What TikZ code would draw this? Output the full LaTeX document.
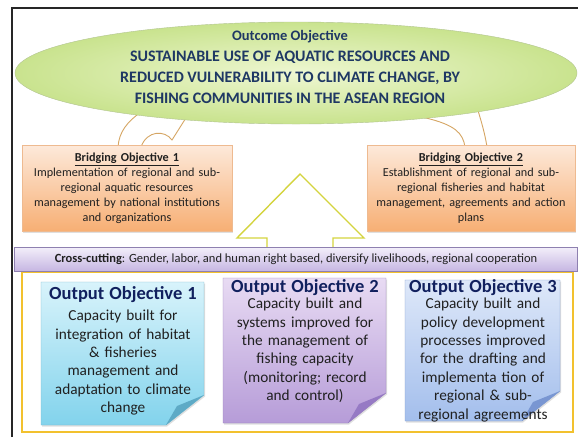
\documentclass[tikz,border=0pt]{standalone}
\usepackage{fontspec}
\setmainfont{Carlito}
\usetikzlibrary{shapes.geometric,shadows}

\definecolor{navytext}{HTML}{1F3864}
\definecolor{titlenavy}{HTML}{11205E}
\definecolor{darktext}{HTML}{202020}
\definecolor{greenin}{HTML}{EEF7D2}
\definecolor{greenout}{HTML}{C9E38E}
\definecolor{greenline}{HTML}{B2C490}
\definecolor{peachtop}{HTML}{FDE9DA}
\definecolor{peachbot}{HTML}{F7AF74}
\definecolor{peachline}{HTML}{EEBA90}
\definecolor{tanline}{HTML}{D6A664}
\definecolor{arrowyellow}{HTML}{D4D43E}
\definecolor{goldline}{HTML}{F2C12E}
\definecolor{liltop}{HTML}{F3EFFA}
\definecolor{lilbot}{HTML}{C6B6E2}
\definecolor{lilline}{HTML}{8E80B0}
\definecolor{cyantop}{HTML}{D8F3FB}
\definecolor{cyanbot}{HTML}{82D3EC}
\definecolor{cyanline}{HTML}{79B9CE}
\definecolor{cyanfold}{HTML}{5EAAC6}
\definecolor{purptop}{HTML}{E8DBF3}
\definecolor{purpbot}{HTML}{B69CD8}
\definecolor{purpline}{HTML}{9882BA}
\definecolor{purpfold}{HTML}{967AC4}
\definecolor{bluetop}{HTML}{DEE8F9}
\definecolor{bluebot}{HTML}{A3BEEC}
\definecolor{blueline}{HTML}{819CCA}
\definecolor{bluefold}{HTML}{7996D2}

\newcommand{\notetitlefont}{\color{titlenavy}\bfseries\fontsize{18.5}{19}\selectfont}

% sticky note with the lower right corner folded up
\def\foldnote[#1][#2](#3,#4)(#5,#6){%
  \shade[#1] (#3,#4) -- (#5,#4) -- (#5,#6-30) -- (#5-38,#6) -- (#3,#6) -- cycle;
  \fill[#2] (#5,#6-30) -- (#5-38,#6) -- (#5-27,#6-19) -- cycle;}

\tikzset{
  outcome/.style={ellipse, draw=greenline, inner color=greenin, outer color=greenout,
    minimum width=562pt, minimum height=102pt, inner sep=0pt},
  goaltext/.style={align=center, text=navytext, font=\bfseries\fontsize{16}{21}\selectfont},
  bridge/.style={rectangle, draw=peachline, top color=peachtop, bottom color=peachbot,
    inner sep=0pt, text width=206pt, align=center, text=darktext,
    font=\fontsize{12.2}{15}\selectfont,
    drop shadow={opacity=.25, shadow xshift=1pt, shadow yshift=-1.5pt}},
  bent/.style={draw=tanline, fill=white, line width=.9pt},
  uparrow/.style={draw=arrowyellow, fill=white, line width=1.4pt, line join=miter},
  crossbar/.style={rectangle, draw=lilline, top color=liltop, bottom color=lilbot,
    inner sep=0pt, minimum width=563pt, minimum height=24pt},
  crosstext/.style={text=darktext, font=\fontsize{12.5}{14}\selectfont},
  notetext/.style={anchor=north, inner sep=0pt, text width=164pt, align=center,
    text=darktext, font=\fontsize{15.3}{18.4}\selectfont},
}

\begin{document}
\begin{tikzpicture}[x=1pt,y=-1pt]
  \useasboundingbox (0,0) rectangle (578,437);
  \fill[white] (0,0) rectangle (578,437);

  % outer frame
  \draw[line width=1.3pt, black!85] (12,437) -- (12,8) -- (578,8);

  % bent arrows running up into the outcome
  \draw[bent] (118,147) .. controls (119,132) and (127,122) .. (141,112) -- (196,102)
    -- (172,140) .. controls (165,130) and (147,130) .. (141,147);
  \draw[bent] (465,147) .. controls (463,133) and (455,125) .. (426,118) -- (440,100)
    -- (475,100) .. controls (479,115) and (484,128) .. (487,147);

  \node[outcome] (outcome) at (296,73) {};
  \node[goaltext] (goal) at (290,67) {{\fontsize{14.5}{21}\selectfont Outcome Objective}\\
    SUSTAINABLE USE OF AQUATIC RESOURCES AND\\
    REDUCED VULNERABILITY TO CLIMATE CHANGE, BY\\
    FISHING COMMUNITIES IN THE ASEAN REGION};

  \node[bridge, minimum width=210pt, minimum height=86pt] (bridge1) at (127,188)
    {\underline{\textbf{Bridging Objective 1}}\\
     Implementation of regional and sub-\\
     regional aquatic resources\\
     management by national institutions\\
     and organizations};
  \node[bridge, minimum width=208pt, minimum height=86pt] (bridge2) at (471,188)
    {\underline{\textbf{Bridging Objective 2}}\\
     Establishment of regional and sub-\\
     regional fisheries and habitat\\
     management, agreements and action\\
     plans};

  % the outputs feed the bridging objectives
  \draw[uparrow] (300,174) -- (364,238) -- (333,238) -- (333,252) -- (267,252)
    -- (267,238) -- (237,238) -- cycle;

  \draw[goldline, line width=1.6pt] (22,272) rectangle (573,432);

  \node[crossbar] (cross) at (295.5,259) {};
  \node[crosstext] (crosscut) at (296,259.5) {\textbf{Cross-cutting}: Gender, labor, and
    human right based, diversify livelihoods, regional cooperation};

  % output objectives
  \foldnote[draw=cyanline, top color=cyantop, bottom color=cyanbot,
    drop shadow={opacity=.25, shadow xshift=1pt, shadow yshift=-1.5pt}][cyanfold](41,282)(204,425)
  \foldnote[draw=purpline, top color=purptop, bottom color=purpbot,
    drop shadow={opacity=.25, shadow xshift=1pt, shadow yshift=-1.5pt}][purpfold](223,278)(386,423)
  \foldnote[draw=blueline, top color=bluetop, bottom color=bluebot,
    drop shadow={opacity=.25, shadow xshift=1pt, shadow yshift=-1.5pt}][bluefold](405,280)(560,421)

  \node[notetext] (out1) at (123,286) {{\notetitlefont Output Objective 1}\\[3pt]
    Capacity built for\\ integration of habitat\\ \& fisheries\\ management and\\
    adaptation to climate\\ change};
  \node[notetext] (out2) at (305,279) {{\notetitlefont Output Objective 2}\\[-2pt]
    Capacity built and\\ systems improved for\\ the management of\\ fishing capacity\\
    (monitoring; record\\ and control)};
  \node[notetext] (out3) at (483,279) {{\notetitlefont Output Objective 3}\\[-2pt]
    Capacity built and\\ policy development\\ processes improved\\ for the drafting and\\
    implementa tion of\\ regional \& sub-\\ regional agreements};
\end{tikzpicture}
\end{document}
